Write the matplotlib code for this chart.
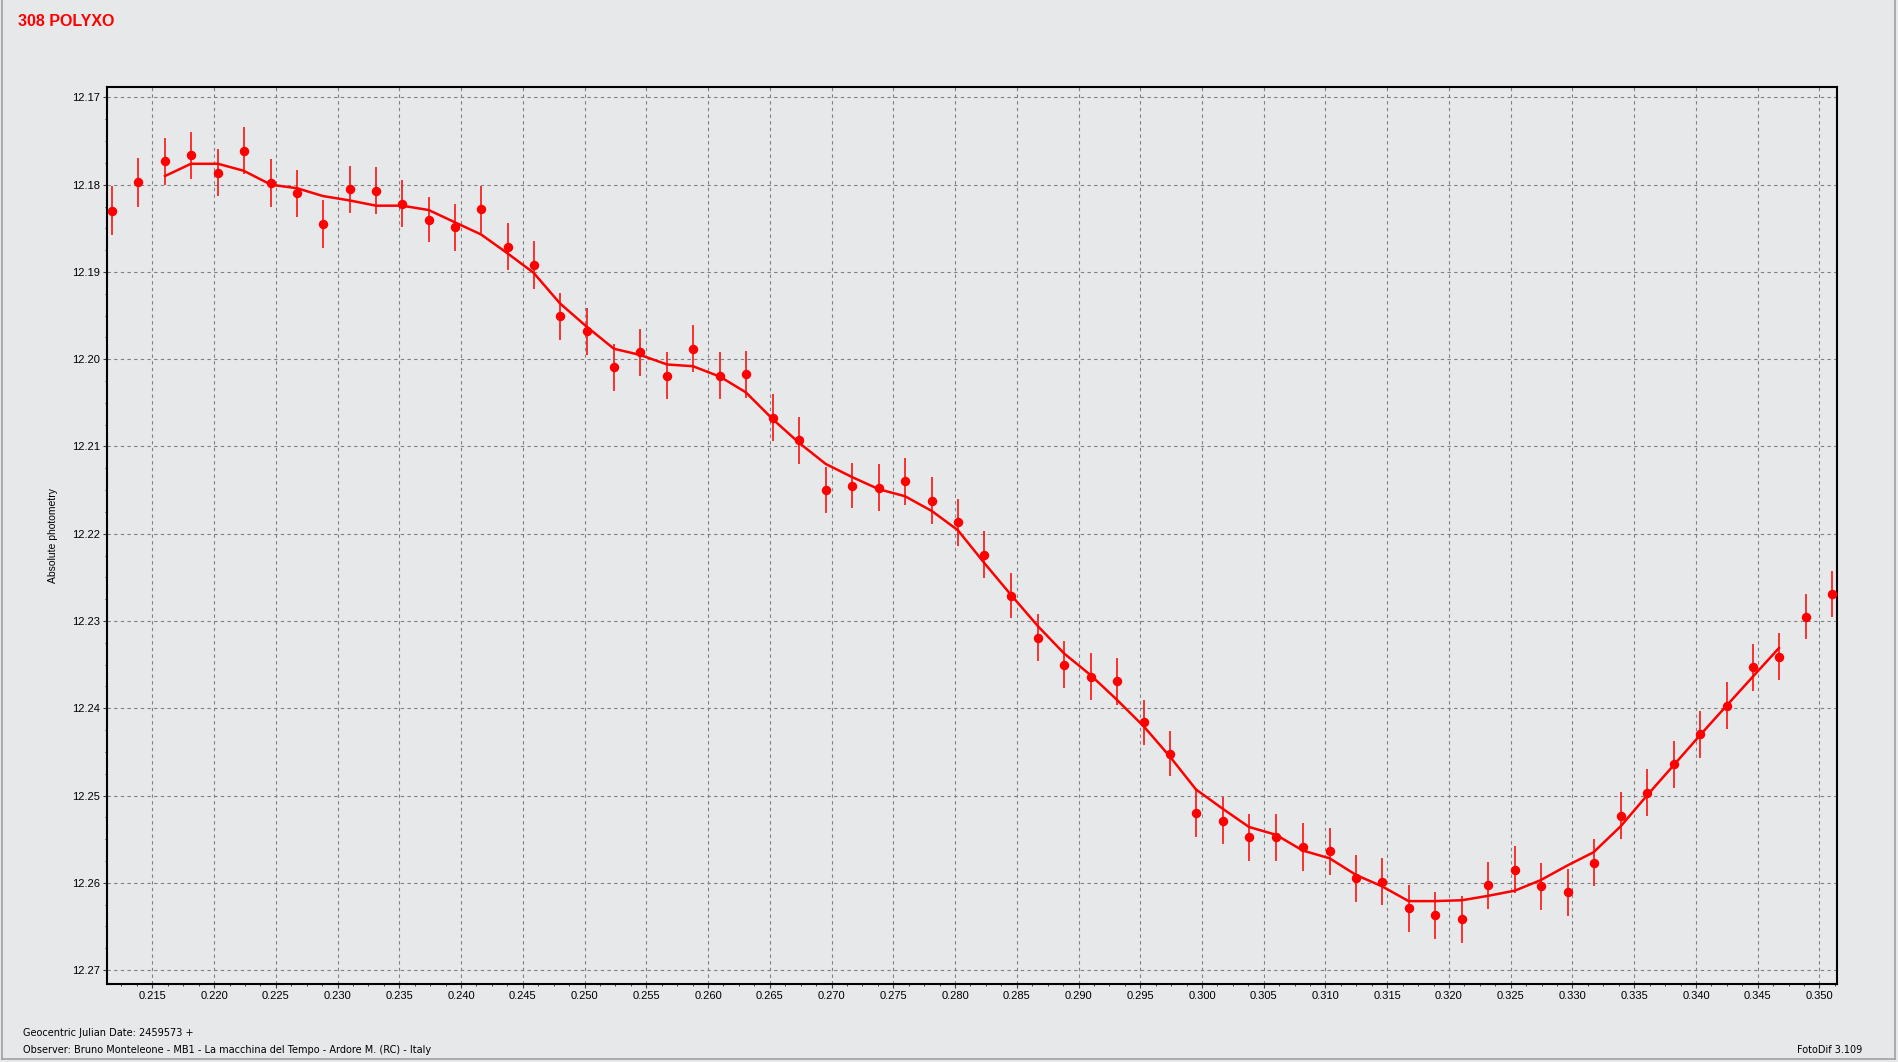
import numpy as np
import matplotlib.pyplot as plt
from matplotlib.ticker import MultipleLocator, FormatStrFormatter
from matplotlib.lines import Line2D

# ----------------------------
# Data
# ----------------------------

# geocentric JD offset (days after 2459573)
jd = [0.21171, 0.21384, 0.21603, 0.21813, 0.22032, 0.22240, 0.22461, 0.22672,
      0.22882, 0.23098, 0.23311, 0.23522, 0.23738, 0.23949, 0.24162, 0.24380,
      0.24588, 0.24801, 0.25020, 0.25238, 0.25449, 0.25668, 0.25878, 0.26097,
      0.26307, 0.26526, 0.26739, 0.26953, 0.27166, 0.27384, 0.27595, 0.27813,
      0.28024, 0.28234, 0.28453, 0.28672, 0.28882, 0.29098, 0.29309, 0.29530,
      0.29738, 0.29951, 0.30166, 0.30380, 0.30599, 0.30815, 0.31034, 0.31247,
      0.31457, 0.31673, 0.31886, 0.32105, 0.32315, 0.32534, 0.32742, 0.32961,
      0.33171, 0.33392, 0.33603, 0.33821, 0.34032, 0.34248, 0.34459, 0.34672,
      0.34888, 0.35101]

mag = [12.1830, 12.1797, 12.1773, 12.1766, 12.1786, 12.1761, 12.1798, 12.1810,
       12.1845, 12.1805, 12.1807, 12.1822, 12.1840, 12.1849, 12.1828, 12.1871,
       12.1892, 12.1951, 12.1968, 12.2009, 12.1992, 12.2019, 12.1988, 12.2019,
       12.2017, 12.2067, 12.2093, 12.2150, 12.2145, 12.2147, 12.2140, 12.2162,
       12.2187, 12.2224, 12.2271, 12.2319, 12.2350, 12.2364, 12.2369, 12.2416,
       12.2452, 12.2520, 12.2529, 12.2548, 12.2548, 12.2559, 12.2564, 12.2595,
       12.2599, 12.2629, 12.2637, 12.2642, 12.2603, 12.2585, 12.2604, 12.2611,
       12.2577, 12.2523, 12.2497, 12.2464, 12.2430, 12.2397, 12.2353, 12.2341,
       12.2295, 12.2269]

err = [0.0028, 0.0028, 0.0027, 0.0027, 0.0027, 0.0027, 0.0027, 0.0027,
       0.0027, 0.0027, 0.0027, 0.0027, 0.0026, 0.0027, 0.0027, 0.0027,
       0.0027, 0.0027, 0.0027, 0.0027, 0.0027, 0.0027, 0.0027, 0.0027,
       0.0027, 0.0027, 0.0027, 0.0026, 0.0026, 0.0027, 0.0027, 0.0027,
       0.0027, 0.0027, 0.0026, 0.0027, 0.0027, 0.0027, 0.0027, 0.0026,
       0.0026, 0.0027, 0.0027, 0.0027, 0.0027, 0.0027, 0.0027, 0.0027,
       0.0027, 0.0027, 0.0027, 0.0027, 0.0027, 0.0027, 0.0027, 0.0027,
       0.0027, 0.0027, 0.0027, 0.0027, 0.0027, 0.0027, 0.0027, 0.0027,
       0.0026, 0.0026]

# smoothed curve, drawn from point 3 to point 64
fit_jd = jd[2:64]
fit_mag = [12.1790, 12.1776, 12.1776, 12.1784, 12.1800, 12.1804, 12.1813, 12.1818,
           12.1824, 12.1824, 12.1829, 12.1843, 12.1857, 12.1879, 12.1901, 12.1936,
           12.1963, 12.1988, 12.1995, 12.2006, 12.2008, 12.2020, 12.2038, 12.2069,
           12.2096, 12.2120, 12.2135, 12.2149, 12.2157, 12.2174, 12.2196, 12.2233,
           12.2270, 12.2306, 12.2337, 12.2362, 12.2390, 12.2421, 12.2455, 12.2493,
           12.2515, 12.2536, 12.2545, 12.2563, 12.2572, 12.2591, 12.2604, 12.2621,
           12.2621, 12.2620, 12.2615, 12.2609, 12.2597, 12.2580, 12.2565, 12.2535,
           12.2500, 12.2465, 12.2431, 12.2397, 12.2364, 12.2331]

#-----------------
# Plot
#-----------------

bg = '#e7e8ea'
red = '#ff0000'
plt.rcParams['font.family'] = ['Liberation Sans', 'DejaVu Sans']

fig = plt.figure(figsize=(18.98, 10.62), dpi=100, facecolor=bg)
ax = fig.add_axes([107/1898, 1 - 984/1062, (1837-107)/1898, (984-87)/1062])
ax.set_facecolor(bg)

ax.plot(fit_jd, fit_mag, color=red, lw=1.8, zorder=3)
ax.errorbar(jd, mag, yerr=err, fmt='o', color=red, ecolor=red,
            markersize=5.8, elinewidth=1.1, capsize=0, zorder=4)

ax.set_xlim(0.21133, 0.35142)
ax.set_ylim(12.2716, 12.1688)  # magnitudes: brighter at top

ax.xaxis.set_major_locator(MultipleLocator(0.005))
ax.xaxis.set_minor_locator(MultipleLocator(0.00125))
ax.yaxis.set_major_locator(MultipleLocator(0.01))
ax.yaxis.set_minor_locator(MultipleLocator(0.0025))
ax.xaxis.set_major_formatter(FormatStrFormatter('%.3f'))
ax.yaxis.set_major_formatter(FormatStrFormatter('%.2f'))

ax.tick_params(which='major', direction='out', length=3, width=0.8,
               labelsize=8, pad=2, color='#404040')
ax.tick_params(which='minor', direction='out', length=1.6, width=0.7, color='#404040')

ax.grid(which='major', color='#808080', lw=0.8, ls=(0, (3, 3)))
for s in ax.spines.values():
    s.set_linewidth(1.5)
    s.set_color('black')

ax.set_ylabel('Absolute photometry', fontsize=7.5, labelpad=10)

# header / footer texts
fig.text(18/1898, 1 - 21/1062, '308 POLYXO', color=red, fontsize=11.5,
         fontweight='bold', va='center', ha='left')
fig.text(23/1898, 1 - 1033/1062, 'Geocentric Julian Date: 2459573 +',
         fontsize=7.0, va='center', ha='left', family='DejaVu Sans')
fig.text(23/1898, 1 - 1050/1062,
         'Observer: Bruno Monteleone - MB1 - La macchina del Tempo - Ardore M. (RC) - Italy',
         fontsize=7.0, va='center', ha='left', family='DejaVu Sans')
fig.text(1862/1898, 1 - 1050/1062, 'FotoDif 3.109', fontsize=7.0,
         va='center', ha='right', family='DejaVu Sans')

# window border
edge = '#a0a0a0'
fig.add_artist(Line2D([2/1898, 2/1898], [1 - 1059/1062, 1], color=edge, lw=1.2))
fig.add_artist(Line2D([1895/1898, 1895/1898], [1 - 1059/1062, 1], color=edge, lw=1.2))
fig.add_artist(Line2D([2/1898, 1895/1898], [1 - 1059/1062, 1 - 1059/1062], color=edge, lw=1.2))

fig.savefig('out.png', dpi=100, facecolor=bg)
